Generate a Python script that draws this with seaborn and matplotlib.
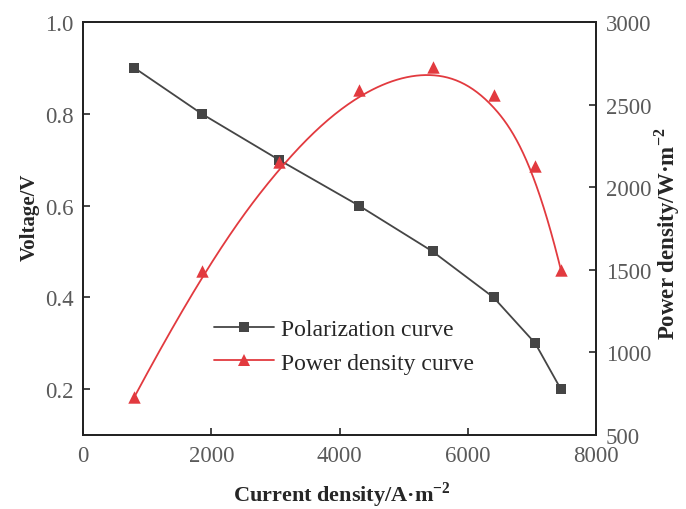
import matplotlib
matplotlib.use("Agg")

import matplotlib.pyplot as plt
import numpy as np
import pandas as pd
import seaborn as sns
from matplotlib.lines import Line2D

# ------------------------------------------------------------------------------
# Data
# ------------------------------------------------------------------------------
current_density = [800, 1850, 3050, 4300, 5450, 6400, 7050, 7450]      # A/m^2
voltage = [0.90, 0.80, 0.70, 0.60, 0.50, 0.40, 0.30, 0.20]             # V
power_density = [730, 1490, 2150, 2590, 2730, 2560, 2130, 1500]        # W/m^2

_GREY = "#454545"
_RED = "#e23a3f"
_TICK = "#5a5a5a"


def _bspline(x, y, n_out=300, k=3):
    """Clamped B-spline using the measured points as control points."""
    ctrl = np.column_stack([x, y]).astype(float)
    n = len(ctrl)
    knots = np.concatenate([np.zeros(k), np.arange(n - k + 1), np.full(k, n - k)])
    t = np.linspace(0, n - k, n_out)
    t[-1] -= 1e-9

    # Cox-de Boor recursion
    basis = np.zeros((n_out, len(knots) - 1))
    for i in range(len(knots) - 1):
        basis[:, i] = (knots[i] <= t) & (t < knots[i + 1])
    for d in range(1, k + 1):
        new = np.zeros((n_out, len(knots) - 1 - d))
        for i in range(len(knots) - 1 - d):
            left = knots[i + d] - knots[i]
            right = knots[i + d + 1] - knots[i + 1]
            if left > 0:
                new[:, i] += (t - knots[i]) / left * basis[:, i]
            if right > 0:
                new[:, i] += (knots[i + d + 1] - t) / right * basis[:, i + 1]
        basis = new
    pts = basis @ ctrl
    return pts[:, 0], pts[:, 1]


sns.set_style("ticks")
plt.rcParams.update({
    "font.family": ["Liberation Serif", "DejaVu Serif"],
    "mathtext.fontset": "custom",
    "mathtext.rm": "Liberation Serif",
    "mathtext.bf": "Liberation Serif:bold",
    "xtick.direction": "in",
    "ytick.direction": "in",
    "xtick.major.size": 5,
    "ytick.major.size": 5,
    "axes.linewidth": 1.3,
    "axes.edgecolor": "#222222",
})

df = pd.DataFrame({"current": current_density, "voltage": voltage,
                   "power": power_density})

bx, by = _bspline(df["current"], df["power"])
fit = pd.DataFrame({"current": bx, "power": by})

fig = plt.figure(figsize=(6.86, 5.10), dpi=100)
ax = fig.add_axes([0.121, 0.145, 0.748, 0.810])
ax2 = ax.twinx()

sns.lineplot(data=df, x="current", y="voltage", ax=ax, color=_GREY,
             linewidth=1.3, marker="s", markersize=7, markeredgewidth=0)
sns.lineplot(data=fit, x="current", y="power", ax=ax2, color=_RED,
             linewidth=1.3, sort=False)
sns.scatterplot(data=df, x="current", y="power", ax=ax2, color=_RED,
                marker="^", s=80, linewidth=0)

ax.set_xlim(0, 8000)
ax.set_ylim(0.1, 1.0)
ax.set_xticks([0, 2000, 4000, 6000, 8000])
ax.set_yticks([0.2, 0.4, 0.6, 0.8, 1.0])
ax2.set_ylim(500, 3000)
ax2.set_yticks([500, 1000, 1500, 2000, 2500, 3000])

for a in (ax, ax2):
    a.tick_params(labelsize=16.5, labelcolor=_TICK, width=1.2, pad=7)
    for s in a.spines.values():
        s.set_visible(True)

ax.set_xlabel(r"Current density/A·m$^{\mathbf{-2}}$", fontsize=16,
              fontweight="bold")
ax.xaxis.set_label_coords(0.505, -0.108)
ax.set_ylabel("Voltage/V", fontsize=15, fontweight="bold")
ax.yaxis.set_label_coords(-0.085, 0.53)
ax2.set_ylabel(r"Power density/W·m$^{\mathbf{-2}}$", fontsize=16.5,
               fontweight="bold")
ax2.yaxis.set_label_coords(1.11, 0.49)

handles = [
    Line2D([], [], color=_GREY, linewidth=1.3, marker="s", markersize=7,
           markeredgewidth=0),
    Line2D([], [], color=_RED, linewidth=1.3, marker="^", markersize=8.5,
           markeredgewidth=0),
]
ax.legend(handles, ["Polarization curve", "Power density curve"],
          loc="center left", bbox_to_anchor=(0.213, 0.215), frameon=False,
          fontsize=17, handlelength=2.55, handletextpad=0.3, labelspacing=0.5)

fig.savefig("out.png", dpi=100)
plt.close(fig)
